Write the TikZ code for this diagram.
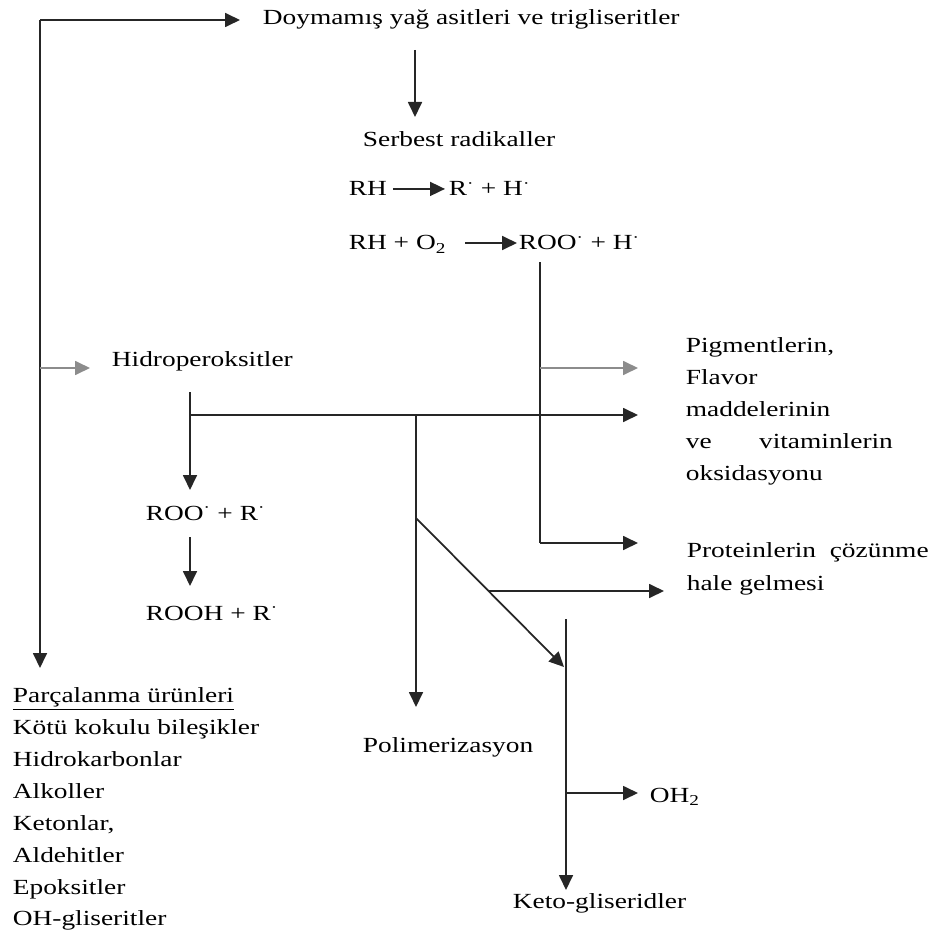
\documentclass[tikz,border=0pt]{standalone}
\usepackage{fontspec}
\setmainfont{Liberation Serif}[FakeStretch=1.27]
\usetikzlibrary{arrows.meta,calc}
\newcommand{\rdot}{\textsuperscript{·}}
\begin{document}
\begin{tikzpicture}[x=0.03cm, y=-0.03cm, >={Triangle[length=0.45cm, width=0.42cm]},
        line width=1.5pt, draw=black!85,
        lbl/.style={inner sep=0, anchor=base west, font=\fontsize{18.4}{27.2}\selectfont},
        lblock/.style={lbl, anchor=north west, align=left},
        pale/.style={draw=black!45}
    ]
    \useasboundingbox (0,0) rectangle (937,935);

    % Top: fatty acids and free radicals
    \node[lbl] (doy) at (262,25) {Doymamış yağ asitleri ve trigliseritler};
    \node[lbl] (serb) at (362,147) {Serbest radikaller};
    \node[lbl] (rh1) at (348,196) {RH};
    \node[lbl] (r1) at (448,196) {R\rdot{} + H\rdot};
    \node[lbl] (rh2) at (348,250) {RH + O\textsubscript{2}};
    \node[lbl] (roo) at (518,250) {ROO\rdot{} + H\rdot};

    % Middle
    \node[lbl] (hid) at (111,366) {Hidroperoksitler};
    \node[lblock] (pig) at (685,337) {Pigmentlerin,\\Flavor\\maddelerinin\\
        \makebox[6.21cm][s]{ve vitaminlerin}\\oksidasyonu};
    \node[lbl] (roor) at (145,520) {ROO\rdot{} + R\rdot};
    \node[lbl] (rooh) at (145,620) {ROOH + R\rdot};
    \node[lbl] (prot1) at (686,557) {Proteinlerin\ \ çözünme};
    \node[lbl] (prot2) at (686,590) {hale gelmesi};

    % Bottom
    \node[lblock] (parc) at (12,687) {\underline{Parçalanma ürünleri}\\Kötü kokulu bileşikler\\
        Hidrokarbonlar\\Alkoller\\Ketonlar,\\Aldehitler\\Epoksitler\\OH-gliseritler};
    \node[lbl] (poli) at (362,752) {Polimerizasyon};
    \node[lbl] (oh) at (649,802) {OH\textsubscript{2}};
    \node[lbl] (keto) at (512,908) {Keto-gliseridler};

    % Left trunk
    \coordinate (trTop) at (40,20);
    \coordinate (trHid) at (40,368);
    \coordinate (trEnd) at (40,668);
    \coordinate (hidIn) at (90,368);
    \draw[->] (trTop) -- (trEnd);
    \draw[->, shorten >=0.66cm] (trTop) -- (trTop -| doy.west);
    \draw[->, pale] (trHid) -- (hidIn);

    % Radical reactions
    \coordinate (dsTop) at (415,50);
    \coordinate (dsEnd) at (415,117);
    \draw[->] (dsTop) -- (dsEnd);
    \draw[->, shorten <=0.15cm, shorten >=0.09cm] (rh1.east) -- (r1.west);
    \coordinate (oxA) at (465,243);
    \coordinate (oxB) at (517,243);
    \draw[->] (oxA) -- (oxB);

    % ROO branch
    \coordinate (rvTop) at (540,262);
    \coordinate (rvPig) at (540,368);
    \coordinate (rvBot) at (540,543);
    \coordinate (pigIn) at (638,368);
    \coordinate (protIn) at (638,543);
    \draw (rvTop) -- (rvBot);
    \draw[->] (rvBot) -- (protIn);
    \draw[->, pale] (rvPig) -- (pigIn);

    % Hydroperoxide branch
    \coordinate (hvTop) at (190,392);
    \coordinate (hvBar) at (190,415);
    \coordinate (hvEnd) at (190,490);
    \coordinate (barEnd) at (638,415);
    \draw[->] (hvTop) -- (hvEnd);
    \draw[->] (hvBar) -- (barEnd);
    \coordinate (rrTop) at (190,537);
    \coordinate (rrEnd) at (190,586);
    \draw[->] (rrTop) -- (rrEnd);

    % Polymerisation and keto-glycerides
    \coordinate (polTop) at (416,415);
    \coordinate (polEnd) at (416,707);
    \draw[->] (polTop) -- (polEnd);
    \coordinate (diagTop) at (416,518);
    \coordinate (diagEnd) at (564,667);
    \coordinate (diagMid) at ($(diagTop)!0.49!(diagEnd)$);
    \coordinate (haleIn) at (664,591);
    \draw[->] (diagTop) -- (diagEnd);
    \draw[->] (diagMid) -- (haleIn);
    \coordinate (kvTop) at (566,619);
    \coordinate (kvOH) at (566,793);
    \coordinate (kvEnd) at (566,890);
    \coordinate (ohIn) at (638,793);
    \draw[->] (kvTop) -- (kvEnd);
    \draw[->] (kvOH) -- (ohIn);

\end{tikzpicture}
\end{document}
